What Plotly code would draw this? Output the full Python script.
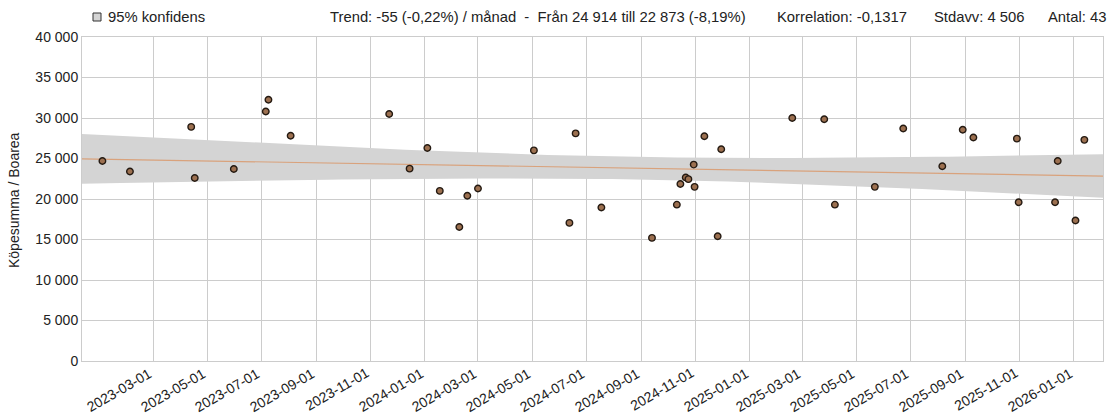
import numpy as np
import pandas as pd
import plotly.graph_objects as go

# ---- data ----
sale_dates = [
    "2023-01-03", "2023-02-03", "2023-04-13", "2023-04-17", "2023-05-31",
    "2023-07-06", "2023-07-09", "2023-08-03", "2023-11-22", "2023-12-15",
    "2024-01-04", "2024-01-18", "2024-02-09", "2024-02-18", "2024-03-01",
    "2024-05-03", "2024-06-12", "2024-06-19", "2024-07-18", "2024-09-13",
    "2024-10-11", "2024-10-15", "2024-10-21", "2024-10-24", "2024-10-30",
    "2024-10-31", "2024-11-11", "2024-11-26", "2024-11-30", "2025-02-18",
    "2025-03-26", "2025-04-07", "2025-05-22", "2025-06-23", "2025-08-06",
    "2025-08-29", "2025-09-10", "2025-10-29", "2025-10-31", "2025-12-11",
    "2025-12-14", "2026-01-03", "2026-01-13",
]
price_per_area = [
    24700, 23400, 28900, 22600, 23700,
    30800, 32250, 27800, 30500, 23750,
    26300, 21000, 16550, 20400, 21300,
    26000, 17050, 28100, 18950, 15200,
    19300, 21850, 22650, 22450, 24250,
    21500, 27750, 15400, 26150, 30000,
    29850, 19300, 21500, 28700, 24050,
    28550, 27600, 27450, 19600, 19600,
    24700, 17350, 27300,
]
trend_start = 24914
trend_end = 22873
stdev = 4506
t_value = 2.02

x_range = ["2022-12-11", "2026-02-03"]
x_ticks = [
    "2023-03-01", "2023-05-01", "2023-07-01", "2023-09-01", "2023-11-01",
    "2024-01-01", "2024-03-01", "2024-05-01", "2024-07-01", "2024-09-01",
    "2024-11-01", "2025-01-01", "2025-03-01", "2025-05-01", "2025-07-01",
    "2025-09-01", "2025-11-01", "2026-01-01",
]
y_ticks = [0, 5000, 10000, 15000, 20000, 25000, 30000, 35000, 40000]

header_trend = "Trend: -55 (-0,22%) / månad  -  Från 24 914 till 22 873 (-8,19%)"
header_corr = "Korrelation: -0,1317"
header_std = "Stdavv: 4 506"
header_n = "Antal: 43"
legend_label = "95% konfidens"
y_title = "Köpesumma / Boarea"

# ---- derived trend and confidence band ----
d = pd.to_datetime(sale_dates)
t0 = d.min()
xd = np.array([(v - t0).days for v in d], dtype=float)
span = xd.max()
slope = (trend_end - trend_start) / span
n = len(xd)
xbar = xd.mean()
sxx = ((xd - xbar) ** 2).sum()

grid = pd.date_range(x_range[0], x_range[1], periods=80)
gd = np.array([(v - t0).days for v in grid], dtype=float)
center = trend_start + slope * gd
half = t_value * stdev * np.sqrt(1.0 / n + (gd - xbar) ** 2 / sxx)
upper = center + half
lower = center - half

fig = go.Figure()
fig.add_trace(go.Scatter(
    x=list(grid) + list(grid[::-1]),
    y=list(upper) + list(lower[::-1]),
    fill="toself", fillcolor="#d4d4d4", line=dict(width=0),
    mode="lines", hoverinfo="skip", showlegend=False,
))
fig.add_trace(go.Scatter(
    x=[grid[0], grid[-1]], y=[center[0], center[-1]],
    mode="lines", line=dict(color="#d9a27c", width=1.2),
    showlegend=False,
))
fig.add_trace(go.Scatter(
    x=d, y=price_per_area, mode="markers",
    marker=dict(size=6.5, color="#9c7050", line=dict(color="#241a12", width=1.4)),
    showlegend=False,
))

font = "Liberation Sans, Arial, sans-serif"
L, R, T, B = 82, 7, 37, 53
W, H = 1110, 414
pw = W - L - R
ph = H - T - B


def px_x(p):
    return (p - L) / pw


def px_y(p):
    return (H - B - p) / ph


fig.update_layout(
    width=W, height=H,
    margin=dict(l=L, r=R, t=T, b=B, autoexpand=False),
    paper_bgcolor="white", plot_bgcolor="white",
    separators=", ",
    font=dict(family=font, size=14, color="#222"),
    showlegend=False,
    xaxis=dict(
        type="date", range=x_range, automargin=False,
        tickvals=x_ticks, showticklabels=False,
        showgrid=True, gridcolor="#cccccc", gridwidth=1,
        showline=True, linecolor="#cccccc", mirror=True, ticks="",
        zeroline=False,
    ),
    yaxis=dict(
        range=[0, 40000], tickvals=y_ticks, tickformat=",d", automargin=False,
        showgrid=True, gridcolor="#cccccc", gridwidth=1,
        showline=True, linecolor="#cccccc", mirror=True, ticks="",
        zeroline=False, tickfont=dict(size=14, color="#222"),
    ),
)

# rotated date labels under the axis
for tv in x_ticks:
    fig.add_annotation(
        x=tv, xref="x", y=px_y(362), yref="paper",
        xanchor="right", yanchor="top", xshift=4,
        text=tv, textangle=-30, showarrow=False,
        font=dict(family=font, size=14, color="#222"),
    )

annos = [
    (px_x(106), legend_label),
    (px_x(328), header_trend),
    (px_x(775), header_corr),
    (px_x(932), header_std),
    (px_x(1046), header_n),
]
for xv, txt in annos:
    fig.add_annotation(
        x=xv, y=px_y(17), xref="paper", yref="paper",
        xanchor="left", yanchor="middle", text=txt, showarrow=False,
        font=dict(family=font, size=14.8, color="#222"),
    )

fig.add_annotation(
    x=px_x(14), y=px_y(200), xref="paper", yref="paper",
    xanchor="center", yanchor="middle", text=y_title, textangle=-90,
    showarrow=False, font=dict(family=font, size=14, color="#222"),
)

fig.add_shape(
    type="rect", xref="paper", yref="paper",
    xsizemode="pixel", ysizemode="pixel",
    xanchor=px_x(93), yanchor=px_y(17),
    x0=0, x1=8, y0=-4, y1=4,
    fillcolor="#d4d4d4", line=dict(color="#333", width=1),
)

fig.write_html(
    "out.html",
    config={"displayModeBar": False},
    post_script="document.body.style.margin='0';document.body.style.overflow='hidden';",
)
